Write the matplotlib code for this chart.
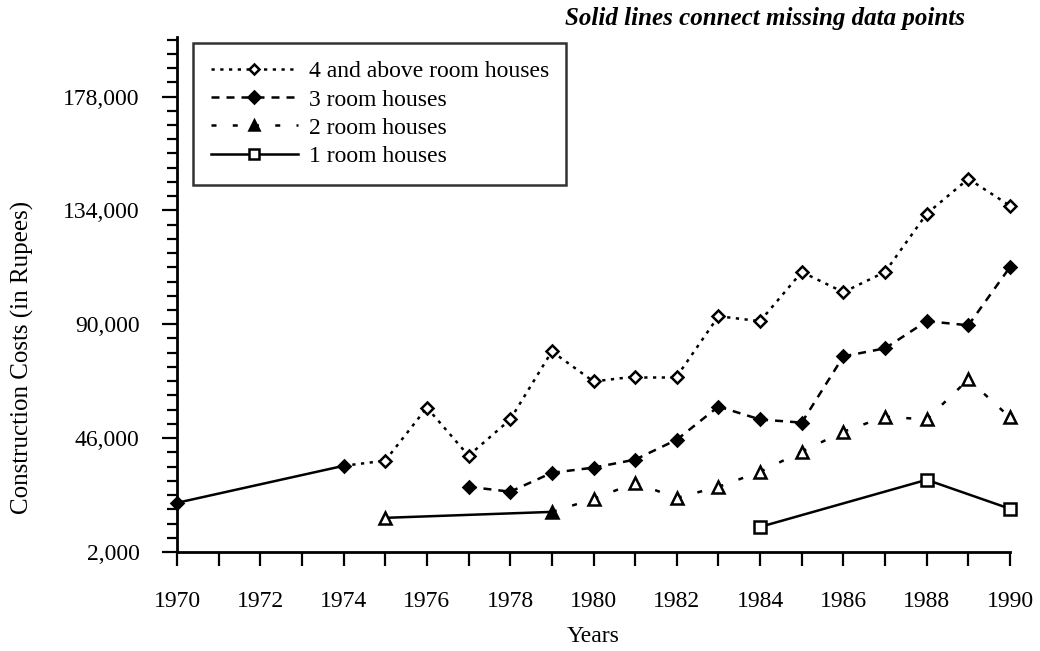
import numpy as np
import matplotlib
matplotlib.use("Agg")
import matplotlib.pyplot as plt
from matplotlib.lines import Line2D
from matplotlib.ticker import FixedLocator

# construction cost per year (Rupees)
years_4 = [1970, 1974, 1975, 1976, 1977, 1978, 1979, 1980, 1981, 1982,
           1983, 1984, 1985, 1986, 1987, 1988, 1989, 1990]
cost_4 = [21000, 35300, 37300, 57800, 39200, 53200, 79500, 67900, 69800, 69800,
          93100, 91200, 110200, 102400, 110200, 132700, 146200, 135800]

years_3 = [1977, 1978, 1979, 1980, 1981, 1982, 1983, 1984, 1985, 1986,
           1987, 1988, 1989, 1990]
cost_3 = [27200, 25300, 32600, 34600, 37700, 45400, 58200, 53200, 52000, 77600,
          80700, 91200, 89600, 112100]

years_2 = [1975, 1979, 1980, 1981, 1982, 1983, 1984, 1985, 1986, 1987,
           1988, 1989, 1990]
cost_2 = [15200, 17500, 22500, 28700, 22900, 27200, 33000, 40800, 48500, 54300,
          53200, 68700, 54000]

years_1 = [1984, 1988, 1990]
cost_1 = [11700, 29900, 18700]

labels = ["4 and above room houses", "3 room houses", "2 room houses", "1 room houses"]

y_major = [2000, 46000, 90000, 134000, 178000]
y_labels = ["2,000", "46,000", "90,000", "134,000", "178,000"]

plt.rcParams["font.family"] = ["Liberation Serif", "DejaVu Serif"]

fig = plt.figure(figsize=(10.4, 6.51), dpi=100)
ax = fig.add_axes([177 / 1040, 1 - 552 / 651, 833 / 1040, 515 / 651])


def draw(yrs, vals, ls, marker, ms, filled_years=(), all_filled=False):
    # consecutive years use the series style, gaps get a solid line
    yrs = np.asarray(yrs)
    vals = np.asarray(vals)
    for i in range(len(yrs) - 1):
        style = ls if yrs[i + 1] - yrs[i] == 1 else "-"
        ax.plot(yrs[i:i + 2], vals[i:i + 2], color="black", lw=1.8,
                linestyle=style, clip_on=False, zorder=2)
    for x, v in zip(yrs, vals):
        face = "black" if (all_filled or x in filled_years) else "white"
        ax.plot([x], [v], marker=marker, ms=ms, mfc=face, mec="black",
                mew=1.8, ls="none", clip_on=False, zorder=3)


ls_4 = (0, (1.3, 2.2))
ls_3 = (0, (3.2, 2.8))
ls_2 = (0, (2.0, 6.5))

draw(years_4, cost_4, ls_4, "D", 6, filled_years=(1970, 1974))
draw(years_3, cost_3, ls_3, "D", 6.5, all_filled=True)
draw(years_2, cost_2, ls_2, "^", 8, filled_years=(1979,))
draw(years_1, cost_1, "-", "s", 8)

ax.set_xlim(1970, 1990)
ax.set_ylim(2000, 201000)

ax.spines["top"].set_visible(False)
ax.spines["right"].set_visible(False)
for s in ("left", "bottom"):
    ax.spines[s].set_linewidth(2)

ax.xaxis.set_major_locator(FixedLocator(list(range(1970, 1991, 2))))
ax.xaxis.set_minor_locator(FixedLocator(list(range(1971, 1990, 2))))
ax.yaxis.set_major_locator(FixedLocator(y_major))
ax.yaxis.set_minor_locator(FixedLocator([v for v in range(2000, 200001, 5500)
                                         if v not in y_major]))
ax.set_yticklabels(y_labels)

ax.tick_params(axis="x", which="both", direction="out", length=10, width=1.6,
               labelsize=17, pad=18)
ax.tick_params(axis="y", which="major", direction="out", length=11, width=1.6,
               labelsize=17, pad=16)
ax.tick_params(axis="y", which="minor", direction="out", length=7, width=1.6)

ax.set_xlabel("Years", fontsize=17)
ax.xaxis.set_label_coords(0.5, -0.143)
ax.set_ylabel("Construction Costs (in Rupees)", fontsize=18)
ax.yaxis.set_label_coords(-0.172, 0.377)

handles = [
    Line2D([], [], color="black", lw=1.8, ls=ls_4, marker="D", ms=5.5, mfc="white", mew=1.8),
    Line2D([], [], color="black", lw=1.8, ls=ls_3, marker="D", ms=6, mfc="black", mew=1.8),
    Line2D([], [], color="black", lw=1.8, ls=ls_2, marker="^", ms=7, mfc="black", mew=1.8),
    Line2D([], [], color="black", lw=1.8, ls="-", marker="s", ms=6.5, mfc="white", mew=1.8),
]
leg = ax.legend(handles, labels, loc="upper left", bbox_to_anchor=(0.019, 0.988),
                borderaxespad=0, fancybox=False, frameon=True, numpoints=1,
                handlelength=3.7, handletextpad=0.45, labelspacing=0.28,
                fontsize=17, borderpad=0.75)
leg.get_frame().set_edgecolor("black")
leg.get_frame().set_linewidth(1.8)

fig.text(965 / 1040, 1 - 18 / 651, "Solid lines connect missing data points",
         ha="right", va="center", fontsize=18, fontstyle="italic", fontweight="bold")

fig.savefig("out.png", dpi=100)
